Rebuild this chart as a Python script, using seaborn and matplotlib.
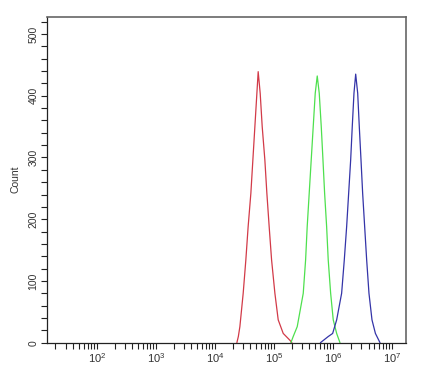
import numpy as np
import pandas as pd
import matplotlib
matplotlib.use("Agg")
import matplotlib.pyplot as plt
from matplotlib.ticker import LogLocator, FixedLocator, MultipleLocator, FuncFormatter
import seaborn as sns

# log10 fluorescence intensity and counts
red_log = [4.373, 4.398, 4.424, 4.480, 4.525, 4.564, 4.610, 4.644, 4.678, 4.712, 4.734,
           4.768, 4.802, 4.847, 4.881, 4.920, 4.961, 5.017, 5.073, 5.158, 5.271, 5.305]
red_cnt = [0, 10, 26, 80, 134, 188, 242, 296, 350, 404, 439,
           404, 350, 296, 242, 188, 134, 80, 37, 15, 4, 0]

green_log = [5.288, 5.327, 5.395, 5.497, 5.537, 5.564, 5.598, 5.632, 5.666, 5.700, 5.734,
             5.768, 5.802, 5.831, 5.859, 5.893, 5.920, 5.961, 6.005, 6.063, 6.119]
green_cnt = [0, 10, 26, 80, 134, 188, 242, 296, 350, 404, 432,
             404, 350, 296, 242, 188, 134, 80, 37, 15, 0]

blue_log = [5.788, 5.920, 5.995, 6.063, 6.147, 6.192, 6.232, 6.266, 6.300, 6.327, 6.356, 6.385,
            6.419, 6.446, 6.475, 6.503, 6.537, 6.571, 6.610, 6.661, 6.719, 6.797]
blue_cnt = [0, 10, 15, 37, 80, 134, 188, 242, 296, 350, 404, 435,
            404, 350, 296, 242, 188, 134, 80, 37, 15, 0]

series_names = ["red", "green", "blue"]
series_colors = ["#d23a48", "#4ee04e", "#3434a8"]

xtick_exps = [2, 3, 4, 5, 6, 7]
ytick_vals = [0, 100, 200, 300, 400, 500]

frames = []
for name, lx, cnt in zip(series_names,
                         [red_log, green_log, blue_log],
                         [red_cnt, green_cnt, blue_cnt]):
    frames.append(pd.DataFrame({"intensity": np.power(10.0, lx), "Count": cnt, "sample": name}))
df = pd.concat(frames, ignore_index=True)

sns.set_style("ticks")
plt.rcParams["font.family"] = ["Liberation Sans", "DejaVu Sans"]
plt.rcParams["mathtext.fontset"] = "custom"
plt.rcParams["mathtext.rm"] = "Liberation Sans"
plt.rcParams["mathtext.it"] = "Liberation Sans"

fig = plt.figure(figsize=(4.22, 3.73), dpi=100)
ax = fig.add_axes([47 / 422, (373 - 342.7) / 373, (406 - 47) / 422, (342.7 - 16.7) / 373])

sns.lineplot(data=df, x="intensity", y="Count", hue="sample", units="sample",
             estimator=None, sort=False, palette=dict(zip(series_names, series_colors)),
             linewidth=0.9, legend=False, ax=ax)

ax.set_xscale("log")
ax.set_xlim(10 ** 1.158, 10 ** 7.237)
ax.set_ylim(0, 528)

ax.xaxis.set_major_locator(FixedLocator([10.0 ** e for e in xtick_exps]))
ax.xaxis.set_major_formatter(FuncFormatter(lambda v, p: r"$10^{%d}$" % round(np.log10(v))))
ax.xaxis.set_minor_locator(LogLocator(base=10, subs=np.arange(2, 10), numticks=20))
ax.yaxis.set_major_locator(FixedLocator(ytick_vals))
ax.yaxis.set_minor_locator(MultipleLocator(20))

ax.tick_params(axis="both", which="both", direction="out", length=4, width=0.8,
               color="#222222", labelcolor="#333333", pad=2)
ax.tick_params(axis="x", labelsize=8)
ax.tick_params(axis="y", labelsize=7.5)
for lab in ax.get_yticklabels():
    lab.set_rotation(90)
    lab.set_va("center")

ax.set_xlabel("")
ax.set_ylabel("Count", fontsize=7.5, color="#333333", labelpad=6)

for side in ["left", "bottom"]:
    ax.spines[side].set_color("#222222")
    ax.spines[side].set_linewidth(0.9)
for side in ["top", "right"]:
    ax.spines[side].set_visible(True)
    ax.spines[side].set_color("#666666")
    ax.spines[side].set_linewidth(1.2)

fig.savefig("out.png", dpi=100)
